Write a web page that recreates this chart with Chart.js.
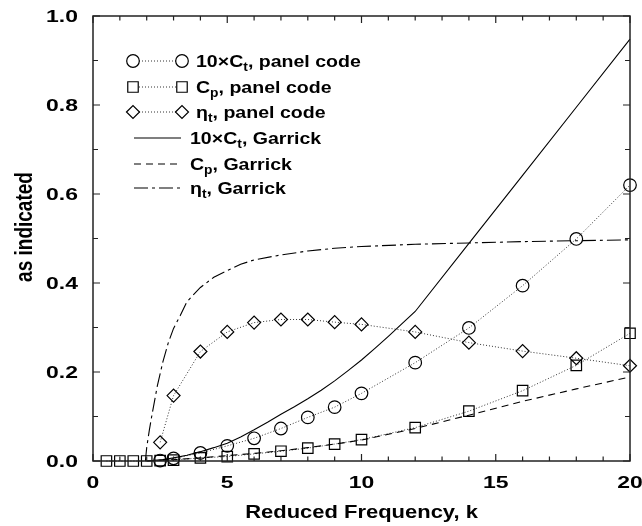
<!DOCTYPE html>
<html>
<head>
<meta charset="utf-8">
<script src="https://cdn.jsdelivr.net/npm/chart.js@4/dist/chart.umd.min.js"></script>
<style>
  html, body { margin: 0; padding: 0; background: #fff; }
  #wrap { width: 642px; height: 526px; }
</style>
</head>
<body>
<div id="wrap"><canvas id="c" width="642" height="526"></canvas></div>
<script>
// ---- Panel-code results (symbols + dotted lines) ----
const ctPanelK  = [2.5, 3, 4, 5, 6, 7, 8, 9, 10, 12, 14, 16, 18, 20];
const ctPanel10 = [0.001, 0.006, 0.018, 0.034, 0.051, 0.073, 0.098, 0.121, 0.152, 0.221, 0.299, 0.394, 0.499, 0.620];

const cpPanelK = [0.5, 1, 1.5, 2, 2.5, 3, 4, 5, 6, 7, 8, 9, 10, 12, 14, 16, 18, 20];
const cpPanel  = [0, 0, 0, 0, 0.001, 0.002, 0.007, 0.010, 0.016, 0.022, 0.029, 0.038, 0.048, 0.075, 0.112, 0.158, 0.215, 0.287];

const etaPanelK = [2.5, 3, 4, 5, 6, 7, 8, 9, 10, 12, 14, 16, 18, 20];
const etaPanel  = [0.042, 0.147, 0.246, 0.290, 0.311, 0.318, 0.318, 0.312, 0.307, 0.290, 0.266, 0.247, 0.231, 0.214];

// ---- Garrick theory (lines) ----
const ctGarrickK  = [2, 2.2, 2.4, 2.6, 2.8, 3, 3.5, 4, 4.5, 5, 5.5, 6, 6.5, 7, 7.5, 8, 8.5, 9, 9.5, 10, 10.5, 11, 11.5, 12, 14, 16, 18, 20];
const ctGarrick10 = [0, 0.001, 0.002, 0.003, 0.005, 0.007, 0.013, 0.021, 0.030, 0.040, 0.054, 0.070, 0.087, 0.105, 0.122, 0.140, 0.159, 0.180, 0.203, 0.227, 0.253, 0.280, 0.308, 0.336, 0.489, 0.642, 0.795, 0.948];

const cpGarrickK = [2, 3, 4, 5, 6, 7, 8, 9, 10, 12, 14, 16, 18, 20];
const cpGarrick  = [0, 0.003, 0.007, 0.012, 0.017, 0.023, 0.030, 0.038, 0.047, 0.073, 0.103, 0.134, 0.162, 0.189];

const etaGarrickK = [1.95, 2.0, 2.1, 2.2, 2.4, 2.6, 2.8, 3.0, 3.25, 3.5, 4, 4.5, 5, 5.5, 6, 7, 8, 9, 10, 12, 14, 16, 18, 20];
const etaGarrick  = [0, 0.03, 0.07, 0.105, 0.170, 0.222, 0.265, 0.298, 0.327, 0.358, 0.390, 0.413, 0.428, 0.442, 0.452, 0.463, 0.472, 0.478, 0.482, 0.487, 0.490, 0.493, 0.495, 0.497];

// ---- Axes ----
const xTickLabels = ['0', '5', '10', '15', '20'];
const xTickValues = [0, 5, 10, 15, 20];
const yTickLabels = ['0.0', '0.2', '0.4', '0.6', '0.8', '1.0'];
const yTickValues = [0, 0.2, 0.4, 0.6, 0.8, 1.0];
const xTitle = 'Reduced Frequency, k';
const yTitle = 'as indicated';

// Legend captions: [main, subscript, rest]
const legendParts = [
  ['10\u00D7C', 't', ', panel code'],
  ['C', 'p', ', panel code'],
  ['\u03B7', 't', ', panel code'],
  ['10\u00D7C', 't', ', Garrick'],
  ['C', 'p', ', Garrick'],
  ['\u03B7', 't', ', Garrick']
];

const pts = (xs, ys) => xs.map((x, i) => ({ x: x, y: ys[i] }));
const FONT = '"Liberation Sans", Arial, Helvetica, sans-serif';
const INK = '#000';
const DOT = [1, 2];

const datasets = [
  { label: legendParts[3].join(''), data: pts(ctGarrickK, ctGarrick10), borderColor: INK, borderWidth: 1.1, pointRadius: 0, tension: 0 },
  { label: legendParts[4].join(''), data: pts(cpGarrickK, cpGarrick), borderColor: INK, borderWidth: 1.1, borderDash: [7, 5], pointRadius: 0, tension: 0 },
  { label: legendParts[5].join(''), data: pts(etaGarrickK, etaGarrick), borderColor: INK, borderWidth: 1.1, borderDash: [14, 4, 3, 4], pointRadius: 0, tension: 0 },
  { label: legendParts[0].join(''), data: pts(ctPanelK, ctPanel10), borderColor: '#333', borderWidth: 1, borderDash: DOT,
    pointStyle: 'circle', pointRadius: 6.3, pointBorderColor: INK, pointBorderWidth: 1.2, pointBackgroundColor: 'rgba(0,0,0,0)', tension: 0 },
  { label: legendParts[1].join(''), data: pts(cpPanelK, cpPanel), borderColor: '#333', borderWidth: 1, borderDash: DOT,
    pointStyle: 'rect', pointRadius: 7.4, pointBorderColor: INK, pointBorderWidth: 1.2, pointBackgroundColor: 'rgba(0,0,0,0)', tension: 0 },
  { label: legendParts[2].join(''), data: pts(etaPanelK, etaPanel), borderColor: '#333', borderWidth: 1, borderDash: DOT,
    pointStyle: 'rectRot', pointRadius: 6.5, pointBorderColor: INK, pointBorderWidth: 1.2, pointBackgroundColor: 'rgba(0,0,0,0)', tension: 0 }
];
datasets.forEach(d => { d.clip = false; d.fill = false; });

// bold text, widened horizontally like the printed figure
function stretchText(ctx, txt, x, y, size, sx, align) {
  ctx.save();
  ctx.font = 'bold ' + size + 'px ' + FONT;
  ctx.textAlign = align || 'left';
  ctx.textBaseline = 'alphabetic';
  ctx.translate(x, y);
  ctx.scale(sx, 1);
  ctx.fillText(txt, 0, 0);
  const w = ctx.measureText(txt).width * sx;
  ctx.restore();
  return w;
}

const framePlugin = {
  id: 'frameTicksText',
  afterDraw(chart) {
    const ctx = chart.ctx;
    const a = chart.chartArea;
    const xs = chart.scales.x, ys = chart.scales.y;
    ctx.save();
    ctx.fillStyle = INK;
    ctx.strokeStyle = '#222';
    ctx.lineWidth = 1.5;
    // box
    ctx.strokeRect(a.left, a.top, a.right - a.left, a.bottom - a.top);
    // inward ticks on all four sides
    ctx.lineWidth = 1.2;
    ctx.beginPath();
    for (let k = 0; k <= 20; k++) {
      const px = xs.getPixelForValue(k);
      const len = (k % 5 === 0) ? 7 : 4.5;
      ctx.moveTo(px, a.bottom); ctx.lineTo(px, a.bottom - len);
      ctx.moveTo(px, a.top); ctx.lineTo(px, a.top + len);
    }
    for (let j = 0; j <= 10; j++) {
      const py = ys.getPixelForValue(j / 10);
      const len = (j % 2 === 0) ? 7 : 5;
      ctx.moveTo(a.left, py); ctx.lineTo(a.left + len, py);
      ctx.moveTo(a.right, py); ctx.lineTo(a.right - len, py);
    }
    ctx.stroke();

    // tick labels
    const tfs = 17, tsx = 1.35;
    xTickValues.forEach((v, i) => {
      stretchText(ctx, xTickLabels[i], xs.getPixelForValue(v), a.bottom + 27, tfs, tsx, 'center');
    });
    yTickValues.forEach((v, i) => {
      stretchText(ctx, yTickLabels[i], a.left - 15, ys.getPixelForValue(v) + 6, tfs, tsx, 'right');
    });

    // axis titles
    stretchText(ctx, xTitle, (a.left + a.right) / 2, 518, 18, 1.22, 'center');
    ctx.save();
    ctx.translate(32, 227);
    ctx.rotate(-Math.PI / 2);
    ctx.scale(1, 1.28);
    ctx.font = 'bold 19px ' + FONT;
    ctx.textAlign = 'center';
    ctx.textBaseline = 'alphabetic';
    ctx.fillText(yTitle, 0, 0);
    ctx.restore();

    // legend
    const rowY = [61, 87, 112, 138, 164, 188];
    const x0 = 133, x1 = 182;
    const lfs = 17, lsx = 1.15, sfs = 12;
    rowY.forEach((y, i) => {
      const ds = chart.data.datasets[(i + 3) % 6];
      ctx.save();
      ctx.strokeStyle = ds.borderColor;
      ctx.lineWidth = ds.borderWidth;
      ctx.setLineDash(ds.borderDash || []);
      ctx.beginPath();
      ctx.moveTo(i < 3 ? x0 + 6 : x0 + 1, y);
      ctx.lineTo(i < 3 ? x1 - 6 : x1 - 1, y);
      ctx.stroke();
      ctx.restore();
      if (i < 3) {
        const opts = { pointStyle: ds.pointStyle, radius: ds.pointRadius, borderWidth: ds.pointBorderWidth };
        ctx.save();
        ctx.strokeStyle = INK;
        ctx.fillStyle = 'rgba(0,0,0,0)';
        ctx.lineWidth = ds.pointBorderWidth;
        Chart.helpers.drawPoint(ctx, opts, x0, y);
        Chart.helpers.drawPoint(ctx, opts, x1, y);
        ctx.restore();
      }
      const parts = legendParts[i];
      let tx = i < 3 ? 196 : 190;
      const base = y + 6;
      tx += stretchText(ctx, parts[0], tx, base, lfs, lsx, 'left');
      tx += stretchText(ctx, parts[1], tx, base + 4, sfs, lsx, 'left');
      stretchText(ctx, parts[2], tx, base, lfs, lsx, 'left');
    });
    ctx.restore();
  }
};

new Chart(document.getElementById('c'), {
  type: 'line',
  data: { datasets: datasets },
  options: {
    responsive: false,
    animation: false,
    devicePixelRatio: 1,
    layout: { padding: { top: 16, right: 12, left: 0, bottom: 0 } },
    plugins: { legend: { display: false }, tooltip: { enabled: false } },
    scales: {
      x: {
        type: 'linear', min: 0, max: 20,
        ticks: { display: false }, grid: { display: false, drawTicks: false }, border: { display: false },
        afterFit: s => { s.height = 65; }
      },
      y: {
        type: 'linear', min: 0, max: 1,
        ticks: { display: false }, grid: { display: false, drawTicks: false }, border: { display: false },
        afterFit: s => { s.width = 93; }
      }
    }
  },
  plugins: [framePlugin]
});
</script>
</body>
</html>
